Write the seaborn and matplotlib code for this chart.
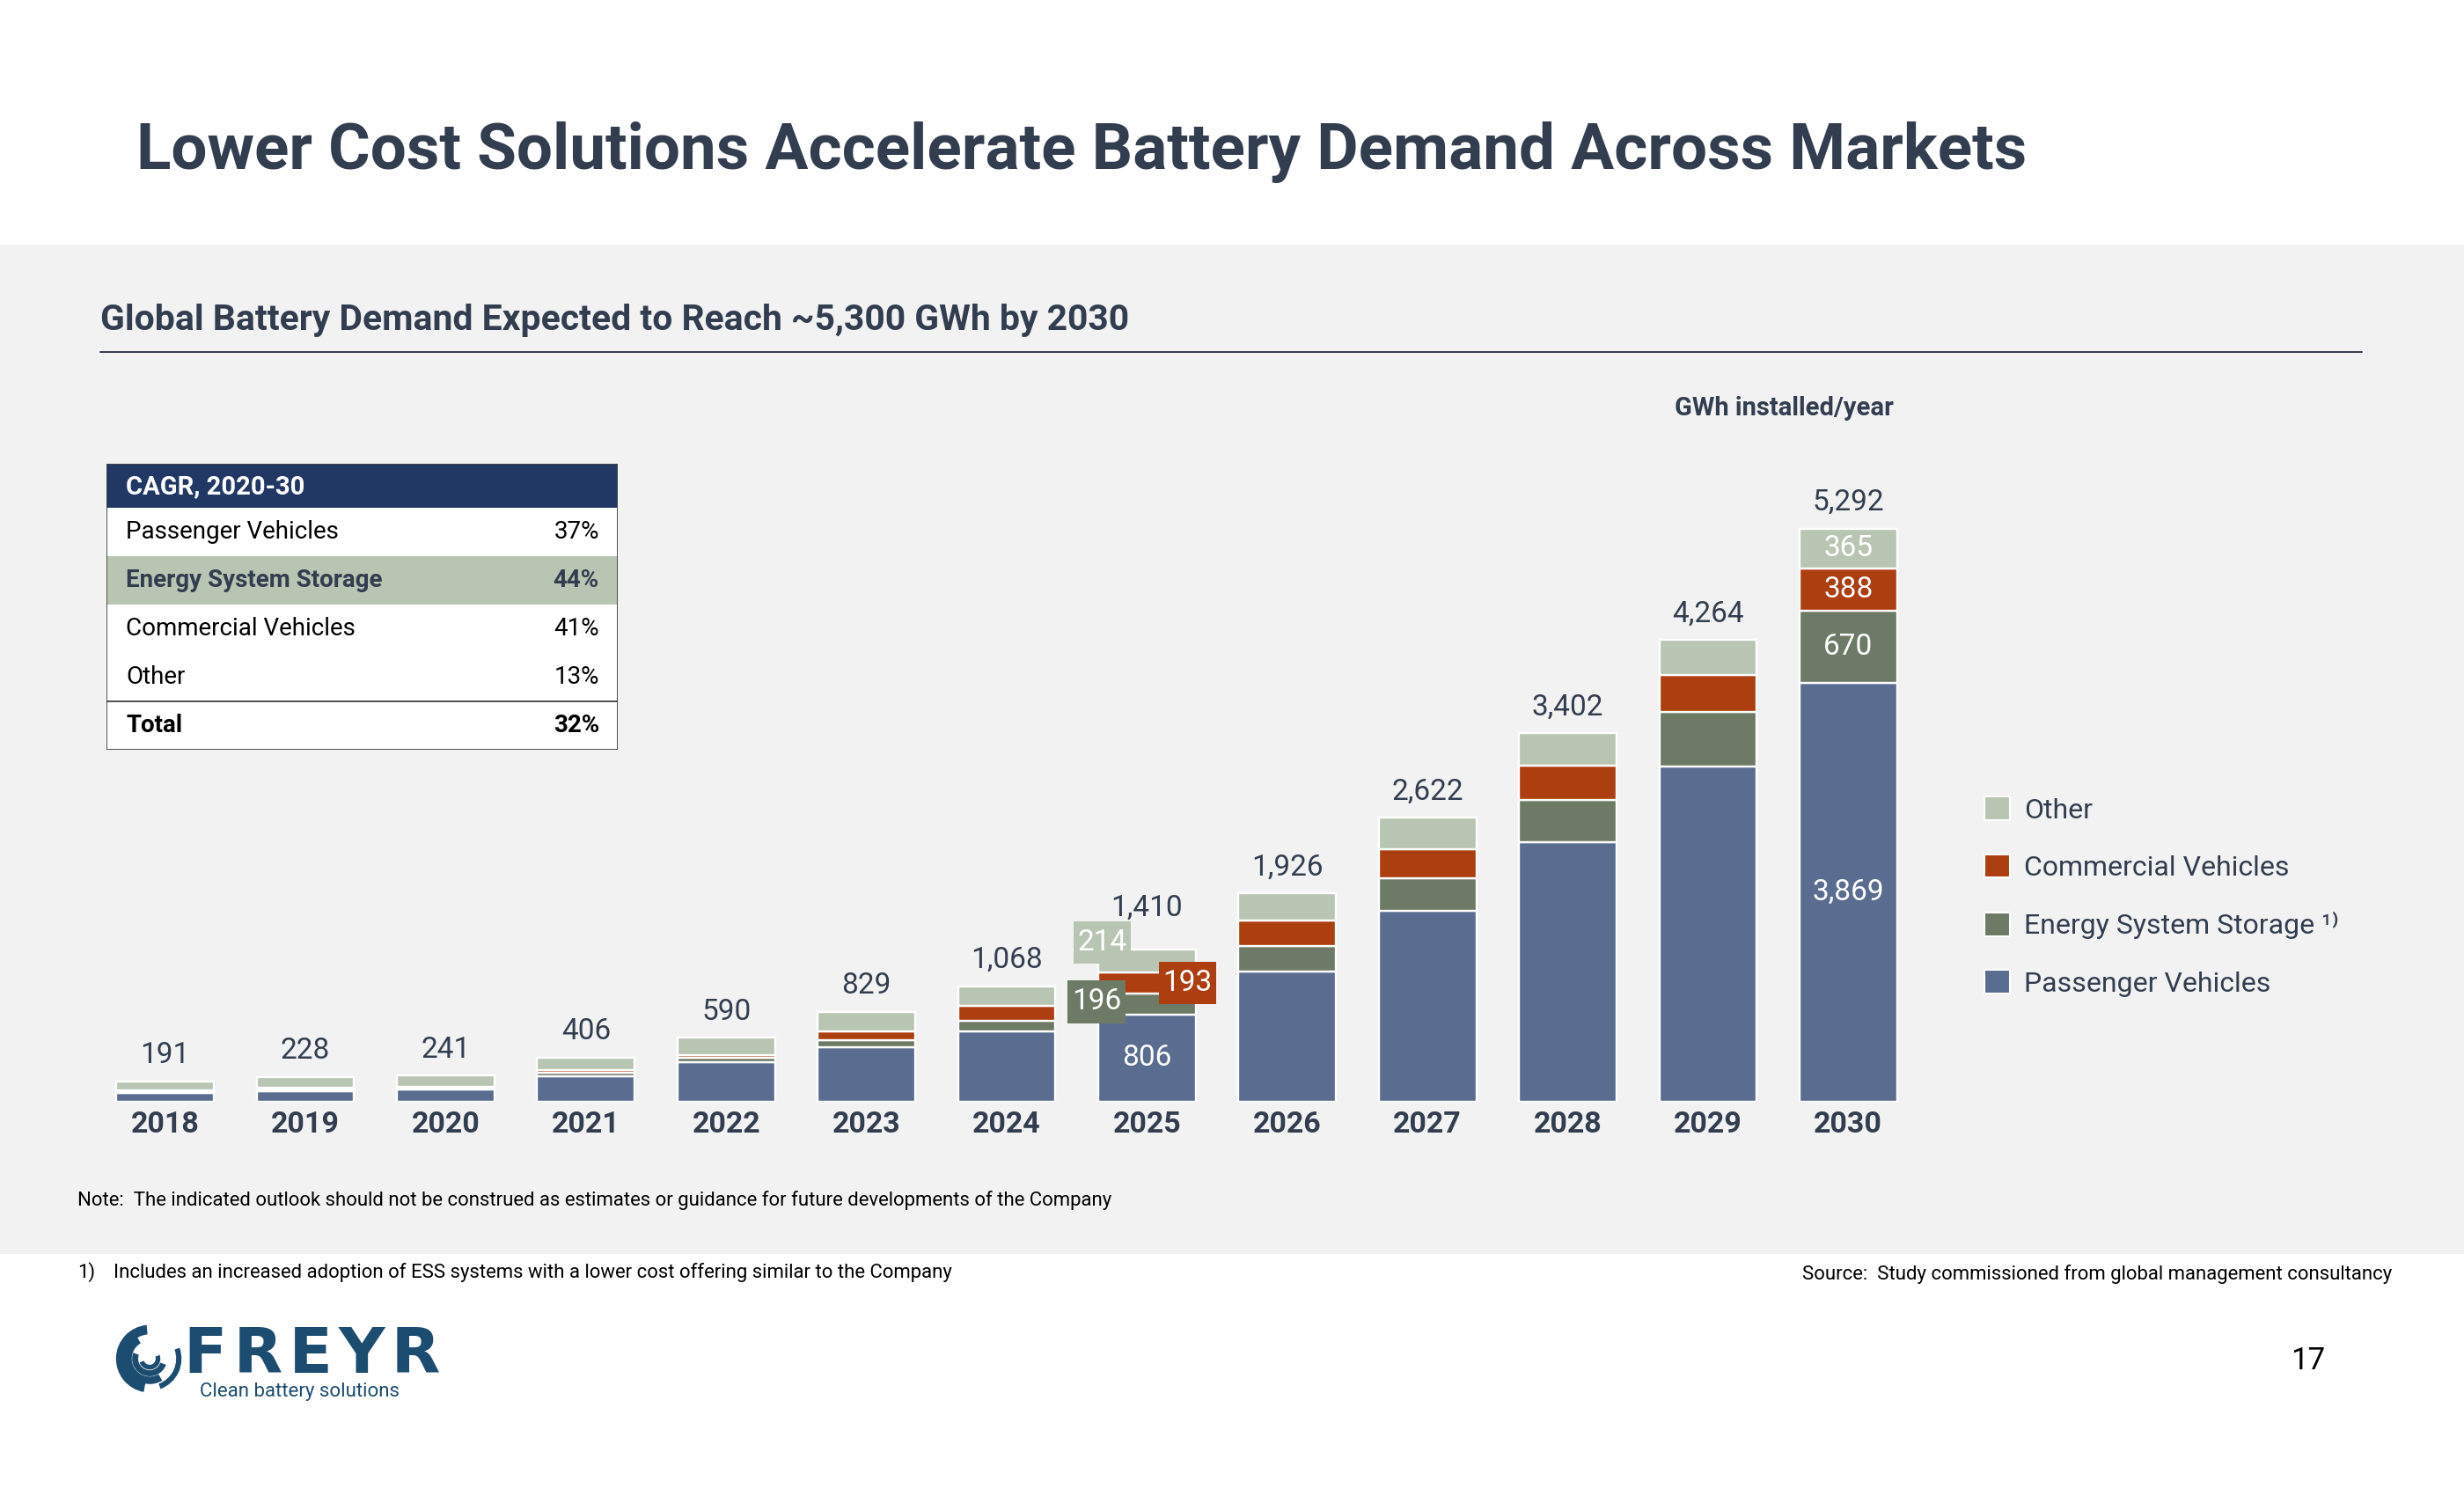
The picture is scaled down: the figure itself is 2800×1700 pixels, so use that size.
import numpy as np
import matplotlib
matplotlib.use("Agg")
import matplotlib.pyplot as plt
from matplotlib.patches import Rectangle, Patch, Wedge
import seaborn as sns

years = ["2018", "2019", "2020", "2021", "2022", "2023", "2024",
         "2025", "2026", "2027", "2028", "2029", "2030"]
passenger = [84, 100, 110, 234, 364, 501, 653, 806, 1205, 1760, 2400, 3095, 3869]
ess = [8, 12, 16, 38, 41, 68, 94, 196, 234, 306, 385, 505, 670]
commercial = [10, 14, 16, 22, 28, 85, 135, 193, 232, 270, 318, 341, 388]
other = [89, 102, 99, 112, 157, 175, 186, 214, 255, 286, 299, 323, 365]
totals = [191, 228, 241, 406, 590, 829, 1068, 1410, 1926, 2622, 3402, 4264, 5292]

cagr_labels = ["Passenger Vehicles", "Energy System Storage", "Commercial Vehicles", "Other", "Total"]
cagr_values = ["37%", "44%", "41%", "13%", "32%"]

# colours
PV_C = "#5a6d90"
ESS_C = "#6d7a65"
CV_C = "#ac3e10"
OTH_C = "#b8c5b2"
DARK = "#323e50"
NAVY = "#213865"
BG = "#f2f2f2"

sns.set_style("white")
plt.rcParams["font.family"] = ["Roboto", "DejaVu Sans"]

W, H = 2800, 1700
fig = plt.figure(figsize=(28, 17), dpi=100)
fig.patch.set_facecolor("white")

def fx(px):
    return px / W

def fy(py):
    return 1 - py / H

# grey band (behind everything)
fig.patches.append(Rectangle((0, fy(1425)), 1, (1425 - 278) / H, transform=fig.transFigure,
                             facecolor=BG, edgecolor="none", zorder=-10))

fig.text(fx(155), fy(173), "Lower Cost Solutions Accelerate Battery Demand Across Markets",
         fontsize=52.5, fontweight="bold", color=DARK, va="center", ha="left")
fig.text(fx(114), fy(364), "Global Battery Demand Expected to Reach ~5,300 GWh by 2030",
         fontsize=29.4, fontweight="bold", color=DARK, va="center", ha="left")
fig.add_artist(plt.Line2D([fx(114), fx(2684)], [fy(400), fy(400)], transform=fig.transFigure,
                          color=DARK, lw=1.4))
fig.text(fx(2152), fy(464), "GWh installed/year", fontsize=21, fontweight="bold",
         color=DARK, va="center", ha="right")

# main chart
ax = fig.add_axes([fx(108), fy(1252), fx(2180) - fx(108), 0.4306])
ax.patch.set_alpha(0)

layers = [
    ("Passenger Vehicles", passenger, PV_C),
    ("Energy System Storage", ess, ESS_C),
    ("Commercial Vehicles", commercial, CV_C),
    ("Other", other, OTH_C),
]
bottom = np.zeros(len(years))
for name, vals, col in layers:
    sns.barplot(x=years, y=vals, bottom=bottom.copy(), color=col, saturation=1,
                width=0.695, edgecolor="white", linewidth=1.7, ax=ax, zorder=2)
    bottom += np.array(vals)

ax.set_ylim(0, 5950)
ax.set_xlim(-0.5, len(years) - 0.5)
sns.despine(ax=ax, left=True, bottom=True)
ax.set_yticks([])
ax.set_xlabel("")
ax.set_ylabel("")
ax.tick_params(axis="x", length=0, pad=7, labelsize=24.5, labelcolor=DARK)
for lab in ax.get_xticklabels():
    lab.set_fontweight("bold")

# totals above bars
for i, t in enumerate(totals):
    off = 27 if years[i] == "2025" else 15
    ax.annotate(f"{t:,}", (i, t), xytext=(0, off), textcoords="offset points",
                ha="center", va="baseline", fontsize=24, color=DARK)

# 2030 segment labels
last = len(years) - 1
base = 0
for name, vals, col in layers:
    v = vals[last]
    ax.text(last, base + v / 2, f"{v:,}", ha="center", va="center", fontsize=24,
            color="white", zorder=4)
    base += v

# 2025 call-outs
k = years.index("2025")
ax.text(k, passenger[k] / 2, f"{passenger[k]:,}", ha="center", va="center",
        fontsize=24, color="white", zorder=4)
callouts = [
    (ess[k], passenger[k] + ess[k] / 2 + 20, -0.36, ESS_C),
    (commercial[k], passenger[k] + ess[k] + commercial[k] / 2, 0.29, CV_C),
    (other[k], passenger[k] + ess[k] + commercial[k] + other[k] / 2 + 170, -0.32, OTH_C),
]
bw, bh = 0.41, 395
for v, yc, dx, col in callouts:
    ax.add_patch(Rectangle((k + dx - bw / 2, yc - bh / 2), bw, bh, facecolor=col,
                           edgecolor="none", zorder=5))
    ax.text(k + dx, yc, f"{v}", ha="center", va="center", fontsize=24,
            color="white", zorder=6)

# legend
handles = [Patch(facecolor=c, edgecolor="white", linewidth=1.5, label=n)
           for n, _, c in layers[::-1]]
handles[2].set_label("Energy System Storage \u00b9\u207e")
ax.legend(handles=handles, loc="center left", bbox_to_anchor=(fx(2255), fy(1019)),
          bbox_transform=fig.transFigure, frameon=False, fontsize=23,
          handlelength=0.9, handleheight=0.9, handletextpad=0.5, labelspacing=1.1,
          borderpad=0, borderaxespad=0, labelcolor=DARK)

# CAGR table
tx0, ty0, tw, th = 121, 527, 581, 325
tab = fig.add_axes([fx(tx0), fy(ty0 + th), tw / W, th / H])
tab.set_xlim(0, tw)
tab.set_ylim(th, 0)
tab.axis("off")
tab.add_patch(Rectangle((0, 0), tw, th, facecolor="white", edgecolor="none"))
tab.add_patch(Rectangle((0, 0), tw, 50, facecolor=NAVY, edgecolor="none"))
tab.text(22, 26, "CAGR, 2020-30", fontsize=21, fontweight="bold", color="white",
         va="center", ha="left")
row_h = 55
for r, (lab, val) in enumerate(zip(cagr_labels, cagr_values)):
    y0 = 50 + r * row_h
    weight = "normal"
    col = "black"
    if lab == "Energy System Storage":
        tab.add_patch(Rectangle((0, y0), tw, row_h, facecolor=OTH_C, edgecolor="none"))
        weight = "bold"
        col = DARK
    if lab == "Total":
        tab.plot([0, tw], [y0, y0], color="#404040", lw=1.3)
        weight = "bold"
    tab.text(22, y0 + row_h / 2, lab, fontsize=20, fontweight=weight, color=col,
             va="center", ha="left")
    tab.text(tw - 21, y0 + row_h / 2, val, fontsize=20, fontweight=weight, color=col,
             va="center", ha="right")
tab.add_patch(Rectangle((0, 0), tw, th, facecolor="none", edgecolor="#404040", lw=1.3))

# notes
fig.text(fx(88), fy(1364), "Note:  The indicated outlook should not be construed as estimates "
         "or guidance for future developments of the Company", fontsize=15.9,
         color="black", va="center", ha="left")
fig.text(fx(88), fy(1446), "1)", fontsize=15.9, color="black", va="center", ha="left")
fig.text(fx(129), fy(1446), "Includes an increased adoption of ESS systems with a lower cost "
         "offering similar to the Company", fontsize=15.9, color="black", va="center", ha="left")
fig.text(fx(2718), fy(1448), "Source:  Study commissioned from global management consultancy",
         fontsize=15.9, color="black", va="center", ha="right")
fig.text(fx(2623), fy(1547), "17", fontsize=25, color="black", va="center", ha="center")

# logo
LOGO = "#1c4d70"
fig.text(fx(209), fy(1540), "F\u200aR\u200aE\u200aY\u200aR", fontsize=52, fontweight="bold",
         color=LOGO, family="DejaVu Sans", va="center", ha="left")
fig.text(fx(227), fy(1581), "Clean battery solutions", fontsize=16, color=LOGO,
         va="center", ha="left")
lg = fig.add_axes([fx(128), fy(1592), 84 / W, 96 / H])
lg.set_xlim(-1.1, 1.1)
lg.set_ylim(-1.25, 1.25)
lg.axis("off")
for r, t1, t2, w in [(1.0, 95, 260, 0.28), (0.75, 120, 300, 0.22),
                     (0.52, 160, 340, 0.18), (0.95, 290, 20, 0.16), (0.32, 200, 20, 0.14)]:
    lg.add_patch(Wedge((0, 0), r, t1, t2, width=w, facecolor=LOGO, edgecolor="none"))

fig.savefig("out.png", dpi=100, facecolor="white")
